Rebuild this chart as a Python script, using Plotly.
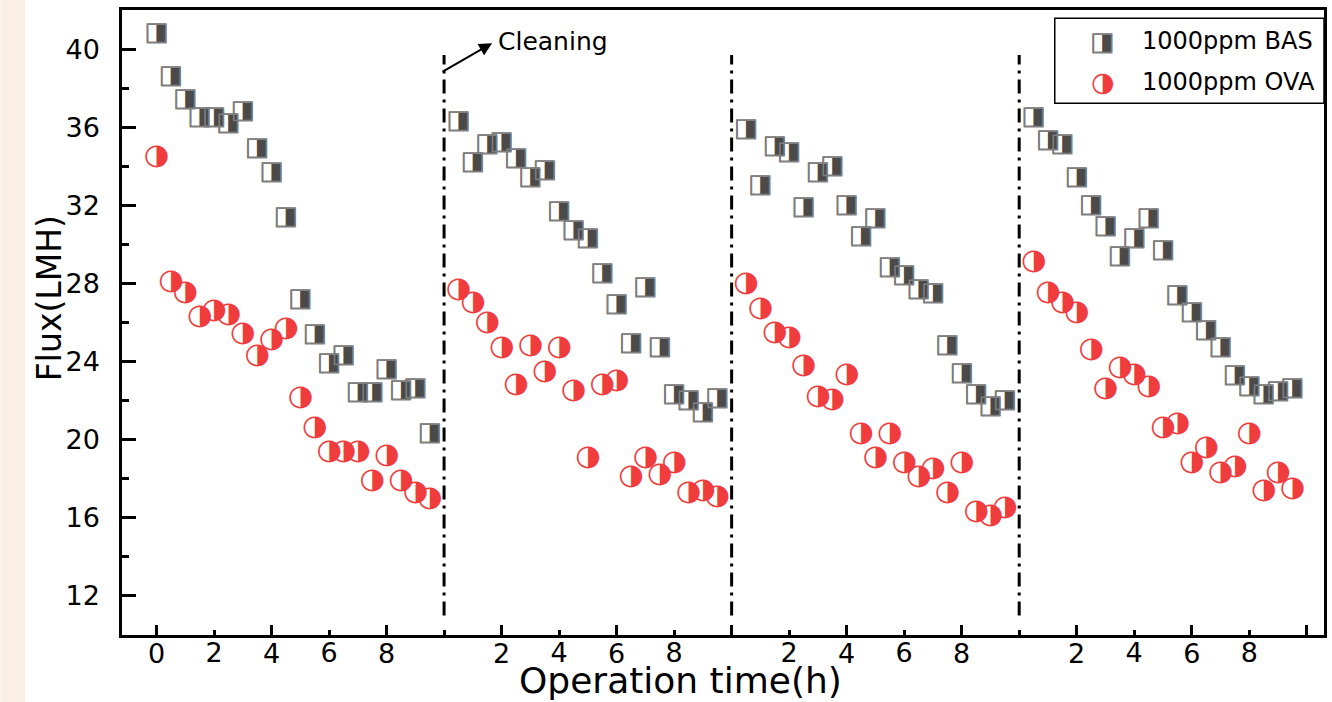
import plotly.graph_objects as go

# ---------------- data ----------------
t1 = [0, 0.5, 1, 1.5, 2, 2.5, 3, 3.5, 4, 4.5, 5, 5.5, 6, 6.5, 7, 7.5, 8, 8.5, 9, 9.5]
t2 = [10.5, 11, 11.5, 12, 12.5, 13, 13.5, 14, 14.5, 15, 15.5, 16, 16.5, 17, 17.5, 18, 18.5, 19, 19.5]
t3 = [20.5, 21, 21.5, 22, 22.5, 23, 23.5, 24, 24.5, 25, 25.5, 26, 26.5, 27, 27.5, 28, 28.5, 29, 29.5]
t4 = [30.5, 31, 31.5, 32, 32.5, 33, 33.5, 34, 34.5, 35, 35.5, 36, 36.5, 37, 37.5, 38, 38.5, 39, 39.5]

bas1 = [40.8, 38.6, 37.4, 36.5, 36.5, 36.2, 36.8, 34.9, 33.7, 31.4, 27.2, 25.4, 23.9, 24.3, 22.4, 22.4, 23.6, 22.5, 22.6, 20.3]
bas2 = [36.3, 34.2, 35.1, 35.2, 34.4, 33.4, 33.8, 31.7, 30.7, 30.3, 28.5, 26.9, 24.9, 27.8, 24.7, 22.3, 22.0, 21.4, 22.1]
bas3 = [35.9, 33.0, 35.0, 34.7, 31.9, 33.7, 34.0, 32.0, 30.4, 31.3, 28.8, 28.4, 27.7, 27.5, 24.8, 23.4, 22.3, 21.7, 22.0]
bas4 = [36.5, 35.3, 35.1, 33.4, 32.0, 30.9, 29.4, 30.3, 31.3, 29.7, 27.4, 26.5, 25.6, 24.7, 23.3, 22.7, 22.3, 22.45, 22.6]

ova1 = [34.5, 28.1, 27.5, 26.3, 26.6, 26.4, 25.4, 24.3, 25.1, 25.7, 22.15, 20.6, 19.4, 19.4, 19.4, 17.9, 19.2, 17.9, 17.3, 17.0]
ova2 = [27.7, 27.0, 26.0, 24.7, 22.8, 24.8, 23.5, 24.7, 22.5, 19.1, 22.8, 23.0, 18.1, 19.1, 18.2, 18.8, 17.3, 17.4, 17.1]
ova3 = [28.0, 26.7, 25.5, 25.2, 23.8, 22.2, 22.05, 23.3, 20.3, 19.1, 20.3, 18.8, 18.1, 18.5, 17.3, 18.8, 16.3, 16.1, 16.5]
ova4 = [29.1, 27.5, 27.0, 26.5, 24.6, 22.6, 23.7, 23.3, 22.7, 20.6, 20.8, 18.8, 19.6, 18.3, 18.6, 20.3, 17.4, 18.3, 17.5]

series_names = ["1000ppm BAS", "1000ppm OVA"]
cleaning_times = [10, 20, 30]

# tick labels
major_x_ticks = [0, 4, 8, 12, 16, 20, 24, 28, 32, 36, 40]
major_x_text = ["0", "4", "8", "2", "6", "", "4", "8", "2", "6", ""]
label_x_ticks = [2, 6, 14, 18, 22, 26, 34, 38]
label_x_text = ["2", "6", "4", "8", "2", "6", "4", "8"]
y_ticks = [12, 16, 20, 24, 28, 32, 36, 40]

# ---------------- styles ----------------
BAS_FILL = "#4a4a4a"
BAS_EDGE = "#808080"
OVA_COLOR = "#f03c3c"
SQ_GLYPH = "\u25E8"    # square with right half black
SQ_OPEN = "\u25A1"     # open square (outline)
CI_GLYPH = "\u25D1"    # circle with right half black
FONT = "DejaVu Sans"
SQ_SIZE = 26
CI_SIZE = 29

t_all = t1 + t2 + t3 + t4
bas_all = bas1 + bas2 + bas3 + bas4
ova_all = ova1 + ova2 + ova3 + ova4

fig = go.Figure()
fig.add_trace(go.Scatter(
    x=t_all, y=bas_all, mode="text", name=series_names[0],
    text=[SQ_GLYPH] * len(t_all), textposition="middle center",
    textfont=dict(family=FONT, size=SQ_SIZE, color=BAS_FILL),
    showlegend=False, hoverinfo="x+y"))
# lighter outline over the squares
fig.add_trace(go.Scatter(
    x=t_all, y=bas_all, mode="text", name=series_names[0],
    text=[SQ_OPEN] * len(t_all), textposition="middle center",
    textfont=dict(family=FONT, size=SQ_SIZE, color=BAS_EDGE),
    showlegend=False, hoverinfo="skip"))
# second series sits on the overlaid x-axis (matched range) so that axis renders its labels
fig.add_trace(go.Scatter(
    x=t_all, y=ova_all, mode="text", name=series_names[1], xaxis="x2", yaxis="y",
    text=[CI_GLYPH] * len(t_all), textposition="middle center",
    textfont=dict(family=FONT, size=CI_SIZE, color=OVA_COLOR),
    showlegend=False, hoverinfo="x+y"))

XR = [-1.2, 40.6]
YR = [10, 42]

# cleaning lines
for c in cleaning_times:
    fig.add_shape(type="line", xref="x", yref="y", x0=c, x1=c, y0=11.0, y1=39.7,
                  line=dict(color="black", width=3, dash="14px,6px,3px,6px"))

# beige strip on the far left of the picture
fig.add_shape(type="rect", xref="paper", yref="paper",
              x0=-122 / 1205, x1=(25 - 122) / 1205, y0=-67 / 625, y1=1 + 10 / 625,
              fillcolor="#faf0e6", line=dict(width=0), layer="below")

# legend box
fig.add_shape(type="rect", xref="paper", yref="paper",
              x0=0.776, x1=1.0, y0=0.851, y1=0.987,
              fillcolor="white", line=dict(color="black", width=1.5))

LEG_GX = 0.8158
LEG_TX = 0.8473
LEG_Y1 = 0.9504
LEG_Y2 = 0.8848

annotations = [
    # cleaning arrow + text
    dict(x=11.67, y=40.3, ax=9.9, ay=38.8, xref="x", yref="y", axref="x", ayref="y",
         text="", showarrow=True, arrowhead=2, arrowsize=1.3, arrowwidth=2, arrowcolor="black"),
    dict(x=11.8, y=40.4, xref="x", yref="y", text="Cleaning", showarrow=False,
         xanchor="left", yanchor="middle", font=dict(family=FONT, size=25, color="black")),
    # axis titles
    dict(x=(682 - 122) / 1205, y=(635 - 681) / 625, xref="paper", yref="paper",
         text="Operation time(h)", showarrow=False, xanchor="center", yanchor="middle",
         font=dict(family=FONT, size=36, color="black")),
    dict(x=(49 - 122) / 1205, y=(635 - 298) / 625, xref="paper", yref="paper",
         text="Flux(LMH)", showarrow=False, textangle=-90, xanchor="center", yanchor="middle",
         font=dict(family=FONT, size=33, color="black")),
    # legend entries
    dict(x=LEG_GX, y=LEG_Y1, xref="paper", yref="paper", text=SQ_GLYPH, showarrow=False,
         xanchor="center", yanchor="middle", font=dict(family=FONT, size=SQ_SIZE, color=BAS_FILL)),
    dict(x=LEG_GX, y=LEG_Y1, xref="paper", yref="paper", text=SQ_OPEN, showarrow=False,
         xanchor="center", yanchor="middle", font=dict(family=FONT, size=SQ_SIZE, color=BAS_EDGE)),
    dict(x=LEG_TX, y=LEG_Y1, xref="paper", yref="paper", text=series_names[0], showarrow=False,
         xanchor="left", yanchor="middle", font=dict(family=FONT, size=24, color="black")),
    dict(x=LEG_GX, y=LEG_Y2, xref="paper", yref="paper", text=CI_GLYPH, showarrow=False,
         xanchor="center", yanchor="middle", font=dict(family=FONT, size=27, color=OVA_COLOR)),
    dict(x=LEG_TX, y=LEG_Y2, xref="paper", yref="paper", text=series_names[1], showarrow=False,
         xanchor="left", yanchor="middle", font=dict(family=FONT, size=24, color="black")),
]

fig.update_layout(
    width=1332, height=702,
    margin=dict(l=122, r=5, t=10, b=67),
    paper_bgcolor="white", plot_bgcolor="white",
    showlegend=False,
    annotations=annotations,
    xaxis=dict(
        range=XR, showgrid=False, zeroline=False,
        showline=True, linecolor="black", linewidth=2.5, mirror=True,
        tickmode="array", tickvals=major_x_ticks, ticktext=major_x_text,
        ticks="inside", ticklen=10, tickwidth=2.5, tickcolor="black",
        ticklabelstandoff=-7,
        minor=dict(tickmode="linear", tick0=0, dtick=2, ticks="inside", ticklen=5,
                   tickwidth=2.5, tickcolor="black", showgrid=False),
        tickfont=dict(family=FONT, size=27, color="black"),
    ),
    xaxis2=dict(
        overlaying="x", matches="x", anchor="y", side="bottom",
        range=XR, showgrid=False, zeroline=False, showline=False,
        tickmode="array", tickvals=label_x_ticks, ticktext=label_x_text,
        ticks="", ticklabelstandoff=-1,
        tickfont=dict(family=FONT, size=27, color="black"),
    ),
    yaxis=dict(
        range=YR, showgrid=False, zeroline=False,
        showline=True, linecolor="black", linewidth=2.5, mirror=True,
        tickmode="array", tickvals=y_ticks,
        ticks="inside", ticklen=14, tickwidth=2.5, tickcolor="black",
        ticklabelstandoff=14,
        minor=dict(tickmode="linear", tick0=0, dtick=2, ticks="inside", ticklen=7,
                   tickwidth=2.5, tickcolor="black", showgrid=False),
        tickfont=dict(family=FONT, size=27, color="black"),
    ),
)

fig.write_html("out.html", config={"displayModeBar": False},
               post_script="document.body.style.margin='0px';")
